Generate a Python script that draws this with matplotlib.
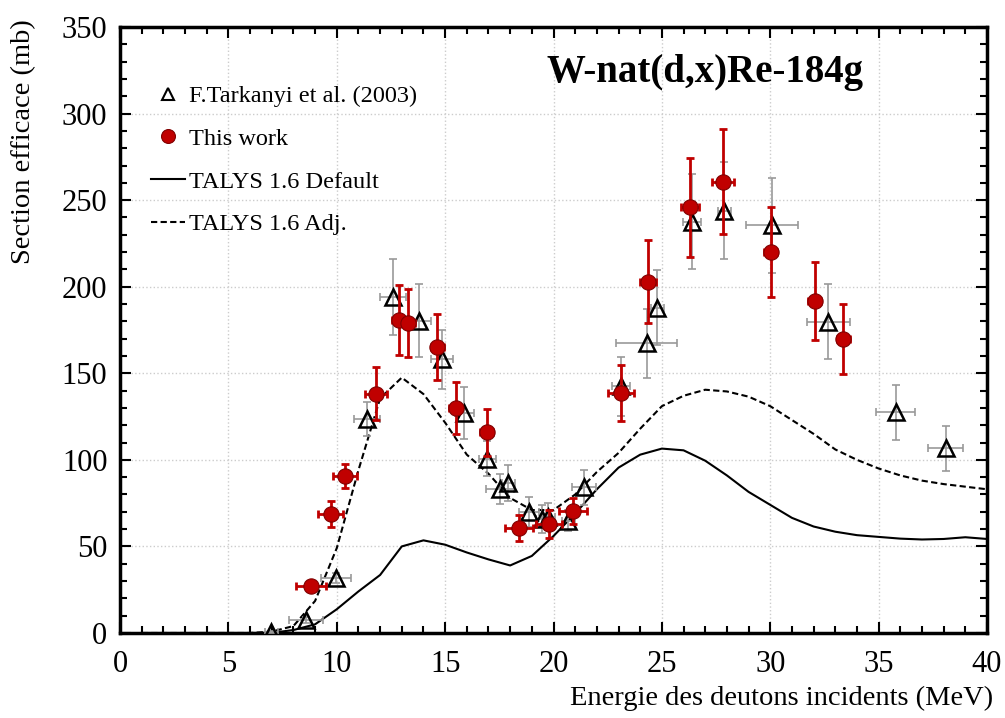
import matplotlib
matplotlib.use('Agg')
import matplotlib.pyplot as plt
from matplotlib.lines import Line2D
from matplotlib.ticker import MultipleLocator

plt.rcParams['font.family'] = ['Liberation Serif', 'DejaVu Serif']

# F.Tarkanyi et al. (2003)
tk_e = [6.97, 8.58, 9.98, 11.38, 12.58, 13.79, 14.87, 15.89, 16.95, 17.53, 17.92,
        18.88, 19.47, 19.76, 20.69, 21.39, 23.11, 24.30, 24.79, 26.39, 27.88,
        30.08, 32.68, 35.79, 38.09]
tk_xs = [0.3, 0.8, 0.7, 0.6, 0.6, 0.55, 0.5, 0.45, 0.4, 0.65, 0.3,
         0.45, 0.3, 0.3, 0.3, 0.55, 0.4, 1.4, 0.3, 0.4, 0.3,
         1.2, 1.0, 0.9, 0.8]
tk_cs = [0.4, 7.5, 31.6, 123.6, 194.2, 180.4, 158.0, 126.9, 100.7, 83.0, 86.5,
         70.0, 65.7, 67.2, 64.9, 84.2, 142.5, 167.3, 187.9, 237.6, 243.9,
         235.5, 179.8, 127.5, 106.7]
tk_dcs = [0.5, 2.0, 3.0, 10.0, 22.0, 21.0, 17.0, 15.0, 10.0, 8.7, 10.5,
          8.7, 8.0, 8.0, 6.0, 10.0, 17.0, 20.0, 21.5, 27.4, 28.0,
          27.4, 21.7, 16.0, 13.0]

# This work
tw_e = [8.81, 9.73, 10.38, 11.81, 12.87, 13.29, 14.63, 15.50, 16.93, 18.41,
        19.79, 20.90, 23.11, 24.36, 26.30, 27.82, 30.03, 32.06, 33.36]
tw_xs = [0.68, 0.58, 0.56, 0.5, 0.3, 0.3, 0.3, 0.3, 0.3, 0.65,
         0.6, 0.63, 0.6, 0.35, 0.4, 0.5, 0.3, 0.3, 0.3]
tw_cs = [27.1, 68.7, 90.7, 138.3, 180.8, 179.0, 165.0, 130.0, 116.0, 60.6,
         63.0, 70.5, 138.6, 203.0, 246.0, 260.5, 220.0, 191.8, 169.8]
tw_dcs = [3.0, 7.5, 7.0, 15.5, 20.4, 19.7, 19.0, 15.0, 13.5, 7.7,
          8.0, 7.5, 16.0, 24.0, 28.6, 30.3, 26.0, 22.4, 20.0]

# TALYS 1.6
talys_e = list(range(1, 41))
talys_def = [0, 0, 0, 0, 0, 0, 0.1, 1.7, 5.0, 13.7, 24.0, 33.5, 50.0, 53.5, 51.0,
             46.5, 42.5, 39.0, 44.5, 56.0, 69.0, 83.0, 95.5, 103.0, 106.5, 105.5,
             99.5, 91.0, 81.5, 74.0, 66.5, 61.5, 58.5, 56.5, 55.5, 54.5, 54.0,
             54.3, 55.3, 54.3]
talys_adj = [0, 0, 0, 0, 0, 0, 0.8, 4.0, 18.5, 49.0, 94.0, 135.5, 147.5, 138.0,
             121.5, 103.0, 92.0, 78.0, 71.0, 71.0, 80.0, 93.0, 104.0, 118.0, 131.0,
             137.0, 140.5, 139.5, 136.5, 131.0, 123.0, 115.0, 106.0, 100.0, 95.0,
             91.0, 88.0, 86.0, 84.5, 83.0]

red = '#c00000'

fig = plt.figure(figsize=(10.05, 7.18), dpi=100)
ax = fig.add_axes([0.1194, 0.1184, 0.8627, 0.844])

ax.plot(talys_e, talys_def, color='black', lw=1.5, zorder=2)
ax.plot(talys_e, talys_adj, color='black', lw=1.5, ls=(0, (3, 1.6)), zorder=2)

ax.errorbar(tk_e, tk_cs, xerr=tk_xs, yerr=tk_dcs, fmt='none', ecolor='#999999',
            elinewidth=1.2, capsize=3, capthick=1.2, zorder=3)
ax.plot(tk_e, tk_cs, ls='none', marker='^', ms=12, mfc='none', mec='black',
        mew=1.8, zorder=4)

ax.errorbar(tw_e, tw_cs, xerr=tw_xs, yerr=tw_dcs, fmt='none', ecolor=red,
            elinewidth=2, capsize=3, capthick=2, zorder=5)
ax.plot(tw_e, tw_cs, ls='none', marker='o', ms=11, mfc=red, mec='#800000',
        mew=0.8, zorder=6)

ax.set_xlim(0, 40)
ax.set_ylim(0, 350)
ax.xaxis.set_major_locator(MultipleLocator(5))
ax.xaxis.set_minor_locator(MultipleLocator(1))
ax.yaxis.set_major_locator(MultipleLocator(50))
ax.yaxis.set_minor_locator(MultipleLocator(10))
ax.tick_params(which='both', direction='in', top=True, right=True, labelsize=22,
               width=1.5)
ax.tick_params(which='major', length=8)
ax.tick_params(which='minor', length=5)
ax.tick_params(axis='x', which='major', pad=12)
ax.tick_params(axis='y', which='major', pad=9)
for s in ax.spines.values():
    s.set_linewidth(2.5)
ax.grid(which='major', color='#cccccc', ls=':', lw=1)
ax.set_axisbelow(True)

ax.set_xlabel('Energie des deutons incidents (MeV)', fontsize=20.5, loc='right')
ax.xaxis.set_label_coords(1.007, -0.088)
ax.set_ylabel('Section efficace (mb)', fontsize=20.5, loc='top')
ax.yaxis.set_label_coords(-0.097, 1.012)

ax.text(27, 324, 'W-nat(d,x)Re-184g', fontsize=28, fontweight='bold',
        ha='center', va='center')

handles = [
    Line2D([], [], ls='none', marker='^', ms=9, mfc='none', mec='black', mew=1.5),
    Line2D([], [], ls='none', marker='o', ms=10, mfc=red, mec='#800000', mew=0.8),
    Line2D([], [], color='black', lw=1.5),
    Line2D([], [], color='black', lw=1.5, ls=(0, (3, 1.6))),
]
labels = ['F.Tarkanyi et al. (2003)', 'This work', 'TALYS 1.6 Default', 'TALYS 1.6 Adj.']
ax.legend(handles, labels, loc='upper left', bbox_to_anchor=(0.01, 0.94),
          frameon=False, fontsize=17.5, handlelength=1.4, handletextpad=0.2,
          labelspacing=0.85)

fig.savefig('out.png', dpi=100)
